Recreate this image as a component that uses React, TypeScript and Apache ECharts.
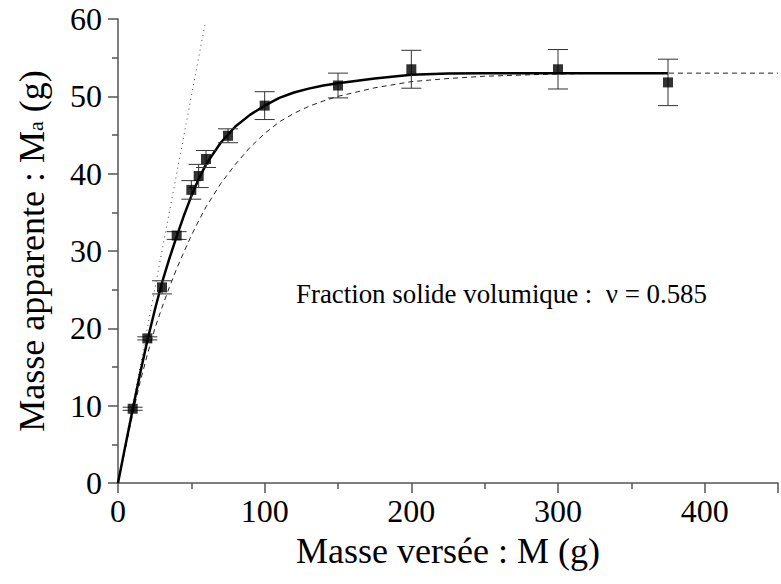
import React, { useEffect, useRef } from "react";
import * as echarts from "echarts";

// Measured points (Masse versée M, Masse apparente Ma, half error bar)
const massX = [10, 20, 30, 40, 50, 55, 60, 75, 100, 150, 200, 300, 375];
const massY = [9.6, 18.7, 25.3, 32.0, 37.9, 39.7, 41.9, 44.9, 48.8, 51.4, 53.5, 53.5, 51.8];
const errY = [0.2, 0.2, 0.85, 0.5, 1.2, 1.5, 1.1, 0.9, 1.8, 1.6, 2.45, 2.55, 3.0];

// Solid fitted curve
const fitX = [0, 5, 10, 15, 20, 25, 30, 35, 40, 45, 50, 55, 60, 70, 80, 90, 100, 110, 120, 130, 140, 150, 175, 200, 225, 250, 300, 375];
const fitY = [0, 4.8, 9.5, 14.1, 18.4, 22.3, 25.9, 29.0, 31.9, 34.6, 37.1, 39.3, 41.2, 44.0, 46.1, 47.6, 48.8, 49.8, 50.5, 51.0, 51.4, 51.7, 52.3, 52.8, 52.95, 53.0, 53.0, 53.0];

// Dashed model curve
const modelX = [0, 5, 10, 15, 20, 25, 30, 35, 40, 45, 50, 55, 60, 70, 80, 90, 100, 110, 120, 130, 140, 150, 175, 200, 225, 250, 300, 350, 450];
const modelY = [0, 4.5, 8.9, 13.0, 16.6, 19.9, 22.7, 25.3, 27.7, 29.9, 32.0, 33.9, 35.7, 38.7, 41.2, 43.4, 45.2, 46.7, 47.8, 48.7, 49.4, 50.0, 51.1, 51.9, 52.3, 52.6, 52.9, 53.0, 53.0];

// Dotted line Ma = M
const slopeX = [0, 59.5];
const slopeY = [0, 59.5];

const xTickLabels = [0, 100, 200, 300, 400];
const yTickLabels = [0, 10, 20, 30, 40, 50, 60];

const FONT = "Liberation Serif";

export default function App() {
  const ref = useRef<HTMLDivElement>(null);
  useEffect(() => {
    if (!ref.current) return;
    const chart = echarts.init(ref.current, undefined, { renderer: "svg" });
    const zip = (xs: number[], ys: number[]) => xs.map((x, i) => [x, ys[i]]);
    const axisColor = "#555";
    chart.setOption({
      animation: false,
      backgroundColor: "#fff",
      textStyle: { fontFamily: FONT },
      grid: { left: 118, right: -10, top: 19, bottom: 101 },
      xAxis: {
        type: "value",
        min: 0,
        max: 450,
        interval: 100,
        name: "Masse versée : M (g)",
        nameLocation: "middle",
        nameGap: 50,
        nameTextStyle: { fontFamily: FONT, fontSize: 36, color: "#000" },
        axisLine: { show: true, onZero: false, lineStyle: { color: axisColor, width: 1.5 } },
        axisTick: { show: true, inside: false, length: 10, lineStyle: { color: axisColor, width: 1.5 } },
        minorTick: { show: true, splitNumber: 2, length: 6, lineStyle: { color: axisColor, width: 1.5 } },
        splitLine: { show: false },
        axisLabel: {
          fontFamily: FONT,
          fontSize: 32,
          color: "#000",
          margin: 12,
          formatter: (v: number) => (xTickLabels.includes(v) ? String(v) : ""),
        },
      },
      yAxis: {
        type: "value",
        min: 0,
        max: 60,
        interval: 10,
        name: "Masse apparente : M{sub|a} (g)",
        nameLocation: "middle",
        nameGap: 68,
        nameTextStyle: {
          fontFamily: FONT,
          fontSize: 36,
          color: "#000",
          rich: {
            sub: { fontFamily: FONT, fontSize: 22, color: "#000", padding: [10, 0, 0, 0], verticalAlign: "top" },
          },
        },
        axisLine: { show: true, onZero: false, lineStyle: { color: axisColor, width: 1.5 } },
        axisTick: { show: true, inside: false, length: 10, lineStyle: { color: axisColor, width: 1.5 } },
        minorTick: { show: true, splitNumber: 2, length: 6, lineStyle: { color: axisColor, width: 1.5 } },
        splitLine: { show: false },
        axisLabel: {
          fontFamily: FONT,
          fontSize: 32,
          color: "#000",
          margin: 16,
          formatter: (v: number) => (yTickLabels.includes(v) ? String(v) : ""),
        },
      },
      graphic: [
        {
          type: "text",
          x: 296,
          y: 281,
          scaleX: 0.84,
          scaleY: 0.84,
          style: {
            text: "Fraction solide volumique :  ν = 0.585",
            fontFamily: FONT,
            fontSize: 32,
            fill: "#000",
            verticalAlign: "top",
            align: "left",
          },
        },
      ],
      series: [
        {
          type: "line",
          data: zip(slopeX, slopeY),
          showSymbol: false,
          lineStyle: { color: "#444", width: 1, type: [1, 4] },
          z: 1,
        },
        {
          type: "line",
          data: zip(modelX, modelY),
          showSymbol: false,
          lineStyle: { color: "#222", width: 1, type: [5, 4] },
          z: 2,
        },
        {
          type: "line",
          data: zip(fitX, fitY),
          showSymbol: false,
          lineStyle: { color: "#000", width: 2.5 },
          z: 3,
        },
        {
          type: "custom",
          data: massX.map((x, i) => [x, massY[i], errY[i]]),
          z: 4,
          renderItem: (params: any, api: any) => {
            const x = api.value(0);
            const y = api.value(1);
            const e = api.value(2);
            const hi = api.coord([x, y + e]);
            const lo = api.coord([x, y - e]);
            const w = 10;
            const style = { stroke: "#333", lineWidth: 1 };
            return {
              type: "group",
              children: [
                { type: "line", shape: { x1: hi[0], y1: hi[1], x2: lo[0], y2: lo[1] }, style },
                { type: "line", shape: { x1: hi[0] - w, y1: hi[1], x2: hi[0] + w, y2: hi[1] }, style },
                { type: "line", shape: { x1: lo[0] - w, y1: lo[1], x2: lo[0] + w, y2: lo[1] }, style },
              ],
            };
          },
        },
        {
          type: "scatter",
          data: zip(massX, massY),
          symbol: "rect",
          symbolSize: 10,
          itemStyle: { color: "#000" },
          z: 5,
        },
      ],
    });
    return () => chart.dispose();
  }, []);
  return (
    <div
      ref={ref}
      style={{ position: "absolute", left: 0, top: 0, width: 781, height: 584 }}
    />
  );
}
